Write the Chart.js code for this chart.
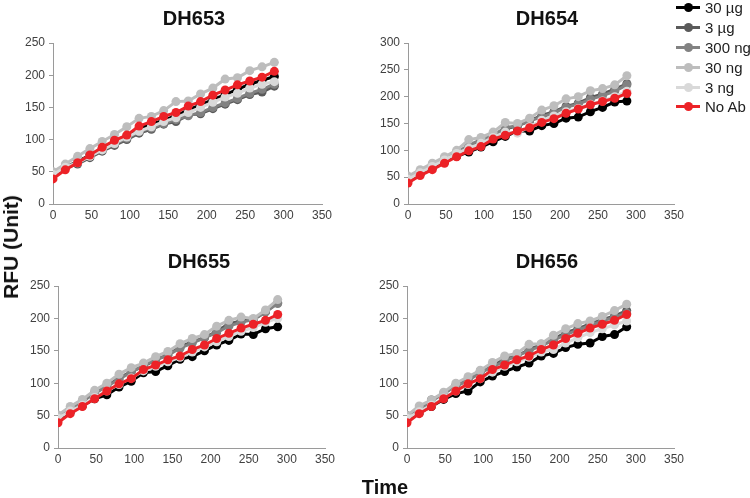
<!DOCTYPE html>
<html>
<head>
<meta charset="utf-8">
<script src="https://cdn.jsdelivr.net/npm/chart.js@4"></script>
<style>
  body { margin: 0; background: #fff; }
  #wrap { position: relative; width: 750px; height: 498px; overflow: hidden; font-family: "Liberation Sans", Arial, sans-serif; }
  canvas { position: absolute; }
  .legend { position: absolute; left: 676px; top: -2px; }
  .legend div { height: 19.8px; display: flex; align-items: center; font-size: 15px; color: #222; white-space: nowrap; }
  .legend .sw { position: relative; width: 24px; height: 3px; margin-right: 5px; }
  .legend .sw i { position: absolute; left: 7.5px; top: -3px; width: 9px; height: 9px; border-radius: 50%; background: inherit; }
  .ytitle { position: absolute; left: 11px; top: 247px; transform: translate(-50%, -50%) rotate(-90deg); font-weight: bold; font-size: 21px; white-space: nowrap; color: #111; }
  .xtitle { position: absolute; left: 385px; top: 487px; transform: translate(-50%, -50%); font-weight: bold; font-size: 20px; color: #111; }
</style>
</head>
<body>
<div id="wrap">
  <canvas id="c1" width="345" height="232" style="left:0;top:0"></canvas>
  <canvas id="c2" width="335" height="232" style="left:360px;top:0"></canvas>
  <canvas id="c3" width="345" height="232" style="left:0;top:245px"></canvas>
  <canvas id="c4" width="335" height="232" style="left:360px;top:245px"></canvas>
  <div class="legend" id="legend"></div>
  <div class="ytitle">RFU (Unit)</div>
  <div class="xtitle">Time</div>
</div>
<script>
// time points (x)
const time = [0, 16, 32, 48, 64, 80, 96, 112, 128, 144, 160, 176, 192, 208, 224, 240, 256, 272, 288];

const seriesNames = ['30 µg', '3 µg', '300 ng', '30 ng', '3 ng', 'No Ab'];
const seriesColors = ['#000000', '#5a5a5a', '#828282', '#bdbdbd', '#d9d9d9', '#ec2227'];

const panelTitles = ['DH653', 'DH654', 'DH655', 'DH656'];
const panelYMax = [250, 300, 250, 250];

// No Ab control, same in every panel
const noAb = [39, 53, 64, 76, 88, 99, 107, 121, 128, 136, 142, 152, 159, 169, 177, 185, 191, 197, 206];

// DH653
const dh653_30ug  = [45, 57, 66, 76, 86, 96, 105, 117, 124, 130, 137, 146, 154, 162, 170, 178, 186, 192, 198];
const dh653_3ug   = [45, 56, 62, 72, 82, 91, 100, 110, 116, 124, 128, 138, 140, 148, 155, 162, 170, 174, 183];
const dh653_300ng = [46, 58, 65, 75, 84, 93, 102, 112, 118, 125, 131, 137, 142, 150, 157, 164, 172, 178, 186];
const dh653_30ng  = [50, 62, 74, 86, 97, 108, 120, 133, 136, 145, 159, 160, 171, 180, 194, 196, 207, 213, 220];
const dh653_3ng   = [46, 57, 64, 74, 84, 94, 104, 113, 120, 128, 134, 142, 150, 158, 166, 172, 180, 186, 190];

// DH654
const dh654_30ug  = [44, 56, 67, 78, 89, 97, 106, 116, 126, 136, 136, 146, 150, 160, 162, 172, 180, 190, 192];
const dh654_3ug   = [48, 60, 72, 84, 96, 106, 118, 126, 140, 145, 155, 165, 172, 182, 188, 198, 205, 214, 224];
const dh654_300ng = [48, 60, 72, 85, 96, 110, 120, 128, 142, 146, 155, 162, 170, 180, 186, 195, 202, 210, 222];
const dh654_30ng  = [52, 64, 76, 88, 100, 120, 124, 134, 152, 150, 160, 175, 183, 196, 200, 211, 215, 222, 239];
const dh654_3ng   = [46, 58, 70, 82, 94, 104, 113, 124, 134, 132, 144, 156, 164, 172, 178, 186, 192, 200, 210];

// DH655
const dh655_30ug  = [44, 55, 65, 76, 82, 94, 103, 116, 118, 127, 137, 141, 150, 159, 166, 176, 175, 184, 187];
const dh655_3ug   = [48, 60, 72, 85, 96, 108, 118, 126, 136, 144, 156, 164, 170, 180, 192, 196, 198, 210, 224];
const dh655_300ng = [48, 60, 72, 84, 95, 106, 117, 127, 136, 143, 154, 162, 170, 178, 188, 194, 198, 210, 223];
const dh655_30ng  = [51, 64, 75, 89, 100, 114, 124, 131, 141, 149, 161, 169, 175, 188, 197, 202, 200, 213, 229];
const dh655_3ng   = [46, 57, 66, 78, 88, 98, 108, 119, 126, 133, 140, 148, 156, 164, 172, 180, 186, 194, 200];

// DH656
const dh656_30ug  = [45, 54, 64, 75, 84, 88, 102, 111, 118, 125, 131, 142, 146, 155, 160, 162, 172, 175, 187];
const dh656_3ug   = [50, 60, 74, 84, 96, 106, 118, 126, 138, 142, 152, 160, 168, 178, 184, 192, 198, 204, 212];
const dh656_300ng = [48, 60, 72, 84, 95, 104, 116, 125, 134, 142, 150, 158, 166, 175, 182, 189, 196, 202, 208];
const dh656_30ng  = [50, 65, 74, 86, 100, 110, 120, 132, 142, 146, 160, 161, 174, 184, 192, 196, 203, 212, 222];
const dh656_3ng   = [46, 56, 66, 77, 88, 98, 107, 117, 126, 133, 140, 148, 152, 162, 170, 178, 184, 190, 196];

const panelSeries = [
  [dh653_30ug, dh653_3ug, dh653_300ng, dh653_30ng, dh653_3ng, noAb],
  [dh654_30ug, dh654_3ug, dh654_300ng, dh654_30ng, dh654_3ng, noAb],
  [dh655_30ug, dh655_3ug, dh655_300ng, dh655_30ng, dh655_3ng, noAb],
  [dh656_30ug, dh656_3ug, dh656_300ng, dh656_30ng, dh656_3ng, noAb]
];

// layout of each small chart inside its canvas
const panelLayout = [
  { id: 'c1', padTop: 2, padBottom: 8, padRight: 23, yWidth: 53, titleX: 194 },
  { id: 'c2', padTop: 2, padBottom: 8, padRight: 21, yWidth: 48, titleX: 187 },
  { id: 'c3', padTop: 0, padBottom: 9, padRight: 20, yWidth: 58, titleX: 199 },
  { id: 'c4', padTop: 0, padBottom: 9, padRight: 21, yWidth: 47, titleX: 187 }
];

// put the title where the original has it
const titlePlacer = {
  id: 'titlePlacer',
  afterLayout(chart, args, opts) {
    const t = chart.titleBlock;
    if (!t || opts.x == null) return;
    const half = (t.right - t.left) / 2;
    t.left = opts.x - half;
    t.right = opts.x + half;
  }
};

Chart.defaults.font.family = '"Liberation Sans", Arial, sans-serif';
Chart.defaults.color = '#404040';

panelLayout.forEach((lay, p) => {
  const datasets = panelSeries[p].map((vals, i) => ({
    label: seriesNames[i],
    data: vals.map((v, k) => ({ x: time[k], y: v })),
    borderColor: seriesColors[i],
    backgroundColor: seriesColors[i],
    pointBackgroundColor: seriesColors[i],
    pointBorderColor: seriesColors[i],
    borderWidth: 3,
    pointRadius: 4.5,
    pointBorderWidth: 0,
    tension: 0,
    order: seriesNames.length - 1 - i
  }));

  new Chart(document.getElementById(lay.id), {
    type: 'line',
    data: { datasets },
    plugins: [titlePlacer],
    options: {
      responsive: false,
      animation: false,
      events: [],
      layout: { padding: { top: lay.padTop, bottom: lay.padBottom, right: lay.padRight, left: 0 } },
      plugins: {
        legend: { display: false },
        tooltip: { enabled: false },
        title: {
          display: true,
          text: panelTitles[p],
          color: '#111',
          font: { size: 20, weight: 'bold', lineHeight: '24px' },
          padding: { top: 5, bottom: 12 }
        },
        titlePlacer: { x: lay.titleX }
      },
      scales: {
        x: {
          type: 'linear',
          min: 0, max: 350,
          grid: { display: false, drawTicks: false },
          border: { display: true, color: '#9a9a9a', width: 1 },
          ticks: { stepSize: 50, padding: 4, font: { size: 12 }, maxRotation: 0 },
          afterFit(s) { s.height = 20; s.paddingLeft = 0; s.paddingRight = 0; }
        },
        y: {
          min: 0, max: panelYMax[p],
          grid: { drawOnChartArea: false, drawTicks: true, tickLength: 4, color: '#9a9a9a' },
          border: { display: true, color: '#9a9a9a', width: 1 },
          ticks: { stepSize: 50, padding: 4, font: { size: 12 } },
          afterFit(s) { s.width = lay.yWidth; s.paddingTop = 0; s.paddingBottom = 0; }
        }
      }
    }
  });
});

// shared legend
const legend = document.getElementById('legend');
seriesNames.forEach((name, i) => {
  const row = document.createElement('div');
  row.innerHTML = '<span class="sw" style="background:' + seriesColors[i] + '"><i></i></span>' + name;
  legend.appendChild(row);
});
</script>
</body>
</html>
